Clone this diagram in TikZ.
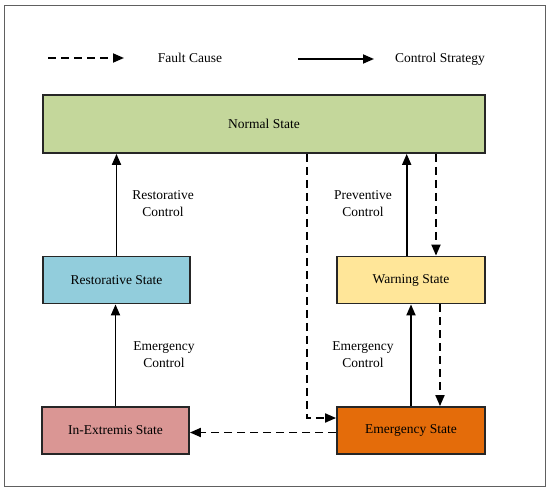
\documentclass[tikz,border=0pt]{standalone}
\usepackage{fontspec}
\setmainfont{Liberation Serif}
\usetikzlibrary{arrows.meta}
\definecolor{cnormal}{HTML}{C4D79B}
\definecolor{crestor}{HTML}{92CDDC}
\definecolor{cwarn}{HTML}{FFE699}
\definecolor{cext}{HTML}{DA9694}
\definecolor{cemerg}{HTML}{E46C0A}
\definecolor{cframe}{HTML}{606060}
\tikzset{
  statebox/.style={draw=black!85, line width=1.8pt, inner sep=0pt, font=\fontsize{13.5}{16}\selectfont},
  ctrl/.style={line width=1.8pt, -{Triangle[length=11pt,width=9pt]}},
  fault/.style={line width=1.8pt, dash pattern=on 8pt off 5pt, -{Triangle[length=11pt,width=9pt]}},
  lbl/.style={font=\fontsize{13.5}{17}\selectfont, align=center, inner sep=0pt},
}
\begin{document}
\begin{tikzpicture}[x=1pt,y=-1pt]
\useasboundingbox (0,0) rectangle (550,493);
\draw[cframe, line width=1pt] (4.5,5) rectangle (545.5,486.5);

% legend
\coordinate (fa) at (48,58);
\coordinate (fb) at (124,58);
\coordinate (ca) at (298,59);
\coordinate (cb) at (374,59);
\draw[fault] (fa) -- (fb);
\draw[ctrl] (ca) -- (cb);
\node[lbl] (lf) at (190,58) {Fault Cause};
\node[lbl] (lc) at (440,59) {Control Strategy};

% states
\node[statebox, fill=cnormal, minimum width=442pt, minimum height=58pt] (normal) at (264,124) {Normal State};
\node[statebox, fill=crestor, minimum width=147pt, minimum height=47pt] (restor) at (116.5,280) {Restorative State};
\node[statebox, fill=cwarn, minimum width=148pt, minimum height=47pt] (warn) at (411,280) {Warning State};
\node[statebox, fill=cext, minimum width=147pt, minimum height=47pt] (inext) at (115.5,430.5) {In-Extremis State};
\node[statebox, fill=cemerg, minimum width=148pt, minimum height=47pt] (emerg) at (411,430.5) {Emergency State};

% control arrows
\draw[ctrl] (restor.north) -- (restor.north |- normal.south);
\draw[ctrl] (inext.north) -- (inext.north |- restor.south);
\draw[ctrl] ([xshift=-4.3pt]warn.north) -- ([xshift=-4.3pt]warn.north |- normal.south);
\draw[ctrl] (emerg.north) -- (warn.south);

% fault arrows
\draw[fault] ([xshift=25pt]warn.north |- normal.south) -- ([xshift=25pt]warn.north);
\draw[fault] ([xshift=29pt]warn.south) -- ([xshift=29pt]emerg.north);
\draw[fault] ([xshift=43pt]normal.south) |- ([yshift=12.5pt]emerg.west);
\draw[fault] ([yshift=-2pt]emerg.west) -- ([yshift=-2pt]inext.east);

% labels
\node[lbl] (l1) at (163,204) {Restorative\\Control};
\node[lbl] (l2) at (363,204) {Preventive\\Control};
\node[lbl] (l3) at (164,355) {Emergency\\Control};
\node[lbl] (l4) at (363,355) {Emergency\\Control};
\end{tikzpicture}
\end{document}
